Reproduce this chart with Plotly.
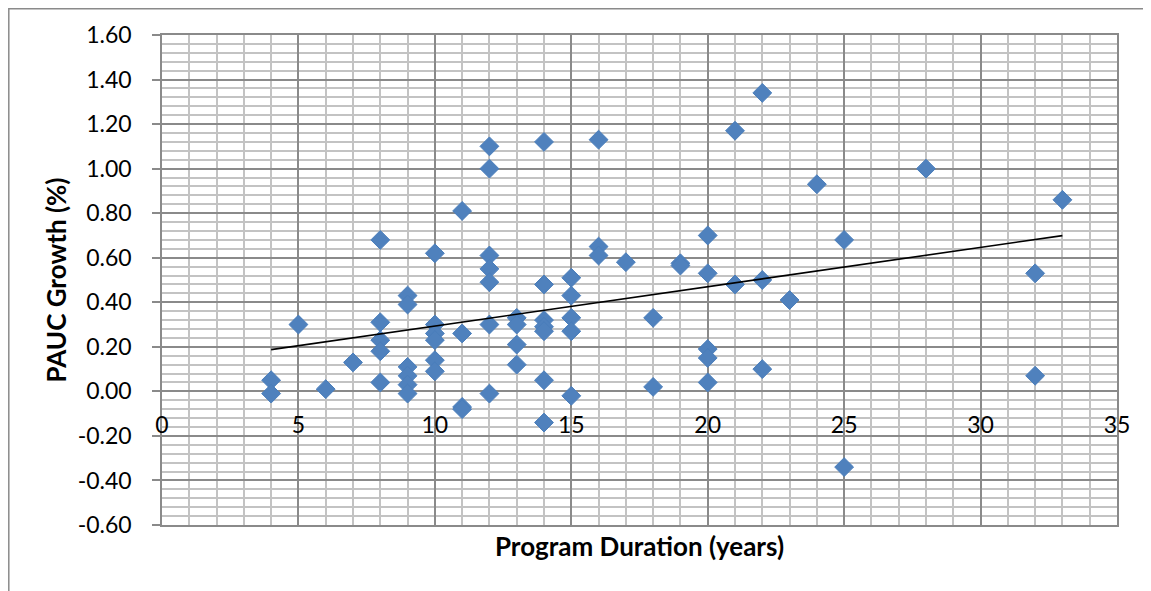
import numpy as np
import plotly.graph_objects as go

# Program duration (years)
duration = [4, 4, 5, 6, 7,
            8, 8, 8, 8, 8,
            9, 9, 9, 9, 9, 9,
            10, 10, 10, 10, 10, 10,
            11, 11, 11, 11,
            12, 12, 12, 12, 12, 12, 12,
            13, 13, 13, 13,
            14, 14, 14, 14, 14, 14, 14,
            15, 15, 15, 15, 15,
            16, 16, 16,
            17,
            18, 18,
            19, 19,
            20, 20, 20, 20, 20,
            21, 21,
            22, 22, 22,
            23, 24, 25, 25, 28,
            32, 32, 33]

# PAUC growth (%)
growth = [0.05, -0.01, 0.30, 0.01, 0.13,
          0.68, 0.31, 0.23, 0.18, 0.04,
          0.43, 0.39, 0.11, 0.07, 0.03, -0.01,
          0.62, 0.30, 0.26, 0.23, 0.14, 0.09,
          0.81, 0.26, -0.07, -0.08,
          1.10, 1.00, 0.61, 0.55, 0.49, 0.30, -0.01,
          0.33, 0.30, 0.21, 0.12,
          1.12, 0.48, 0.32, 0.29, 0.27, 0.05, -0.14,
          0.51, 0.43, 0.33, 0.27, -0.02,
          1.13, 0.65, 0.61,
          0.58,
          0.33, 0.02,
          0.575, 0.565,
          0.70, 0.53, 0.19, 0.15, 0.04,
          1.17, 0.48,
          1.34, 0.50, 0.10,
          0.41, 0.93, 0.68, -0.34, 1.00,
          0.53, 0.07, 0.86]

x_ticks = [0, 5, 10, 15, 20, 25, 30, 35]
y_ticks = [-0.6, -0.4, -0.2, 0.0, 0.2, 0.4, 0.6, 0.8, 1.0, 1.2, 1.4, 1.6]

# linear trendline (least squares) over the data span
slope, intercept = np.polyfit(duration, growth, 1)
trend_x = [min(duration), max(duration)]
trend_y = [slope * v + intercept for v in trend_x]

FONT = "Lato"
MAJOR = "#8a8a8a"
MINOR = "#c3c3c3"

# the page body has an 8px margin, so the figure is laid out 8px in
W, H = 1143, 583
L, R, T, B = 154, 34, 27, 66
PW, PH = W - L - R, H - T - B

fig = go.Figure()
fig.add_trace(go.Scatter(
    x=duration, y=growth, mode="markers",
    marker=dict(symbol="diamond", size=14.5, color="#4F81BD",
                line=dict(color="#4A7EBB", width=1)),
    showlegend=False, hoverinfo="x+y"))
fig.add_trace(go.Scatter(
    x=trend_x, y=trend_y, mode="lines", xaxis="x2",
    line=dict(color="black", width=1.6),
    showlegend=False, hoverinfo="skip"))

fig.update_layout(
    width=W, height=H,
    margin=dict(l=L, r=R, t=T, b=B),
    paper_bgcolor="white", plot_bgcolor="white",
    font=dict(family=FONT, color="black", size=23),
    xaxis=dict(
        range=[0, 35], dtick=5, tick0=0,
        showticklabels=False, ticks="",
        showgrid=True, gridcolor=MAJOR, gridwidth=1.5,
        minor=dict(dtick=1, showgrid=True, gridcolor=MINOR, gridwidth=1.5),
        showline=True, linecolor=MAJOR, linewidth=1.5, mirror=True,
        zeroline=False, fixedrange=True,
        title=dict(text="<b>Program Duration (years)</b>",
                   font=dict(family=FONT, size=26), standoff=12),
    ),
    xaxis2=dict(
        overlaying="x", anchor="free", position=0.6 / 2.2, side="bottom",
        range=[0, 35], tickvals=x_ticks, ticktext=[str(v) for v in x_ticks],
        showgrid=False, showline=False, zeroline=False, ticks="",
        ticklabelstandoff=18, tickfont=dict(family=FONT, size=23),
        fixedrange=True,
    ),
    yaxis=dict(
        range=[-0.6, 1.6], tickvals=y_ticks,
        ticktext=[f"{v:.2f}" for v in y_ticks],
        ticks="outside", ticklen=8, tickcolor=MAJOR, tickwidth=1.5,
        ticklabelstandoff=16,
        showgrid=True, gridcolor=MAJOR, gridwidth=1.5,
        minor=dict(dtick=0.04, tick0=0, showgrid=True, gridcolor=MINOR, gridwidth=1.5),
        showline=True, linecolor=MAJOR, linewidth=1.5, mirror=True,
        zeroline=False, fixedrange=True,
        title=dict(text="<b>PAUC Growth (%)</b>",
                   font=dict(family=FONT, size=26), standoff=4),
    ),
)

# outer chart-area border
fig.add_shape(type="rect", xref="paper", yref="paper",
              x0=(0.8 - L) / PW, x1=(W + 20 - L) / PW,
              y0=(H - B - (H + 20)) / PH, y1=(H - B - 0.8) / PH,
              line=dict(color="#8a8a8a", width=1.5), fillcolor="rgba(0,0,0,0)",
              layer="below")

fig.write_html("out.html")
